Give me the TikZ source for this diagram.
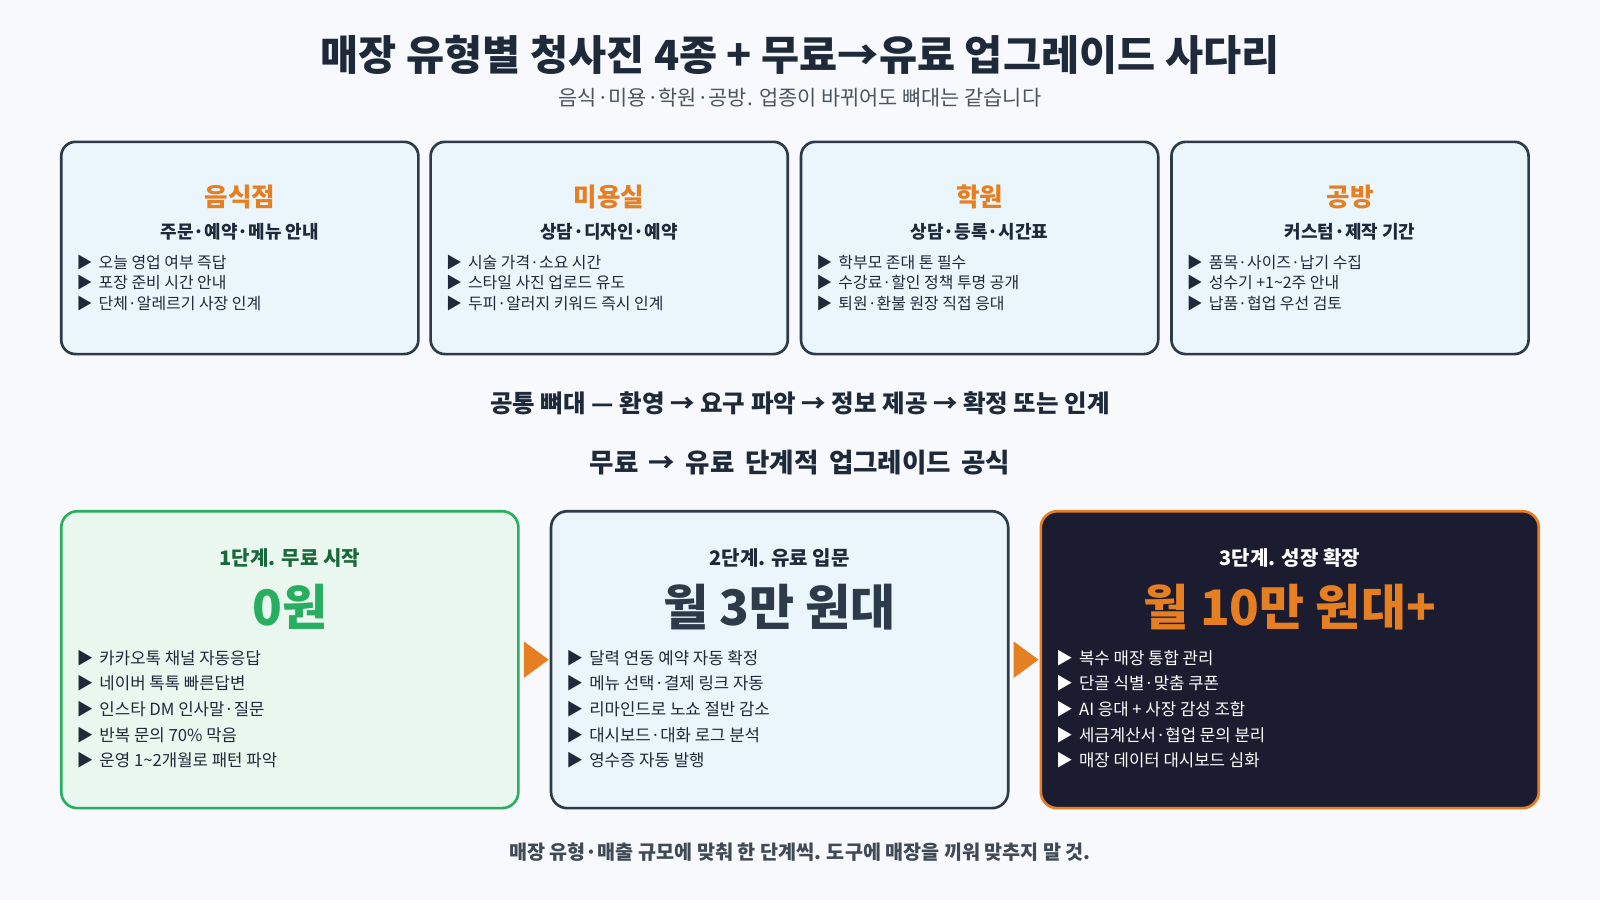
\documentclass[tikz,border=0pt]{standalone}
\usepackage{fontspec}
\setmainfont{Noto Sans CJK KR}
\usetikzlibrary{calc, positioning}
\definecolor{bgpaper}{HTML}{F7F9FC}
\definecolor{inkdark}{HTML}{1E2A3A}
\definecolor{cardline}{HTML}{2D3A4A}
\definecolor{cardfill}{HTML}{EAF5FC}
\definecolor{accentorange}{HTML}{E67E22}
\definecolor{accentgreen}{HTML}{27AE60}
\definecolor{greenfill}{HTML}{EAF7EE}
\definecolor{nightfill}{HTML}{1C1C30}

\tikzset{
  card/.style={draw=cardline, fill=cardfill, line width=1.3pt, rounded corners=7pt,
    minimum width=175pt, minimum height=104pt, inner sep=0pt},
  cardtitle/.style={font=\bfseries\fontsize{12.5}{14}\selectfont, text=accentorange},
  cardsub/.style={font=\bfseries\fontsize{8.8}{10}\selectfont, text=inkdark},
  bullet/.style={font=\fontsize{7.8}{9}\selectfont, text=inkdark, anchor=west, inner sep=0pt},
  stage/.style={line width=1.3pt, rounded corners=8pt, minimum height=145.5pt, inner sep=0pt},
  heading/.style={font=\bfseries\fontsize{12}{14}\selectfont, text=inkdark},
}

\begin{document}
\begin{tikzpicture}[x=0.5pt, y=-0.5pt]
  % Background
  \fill[bgpaper] (0,0) rectangle (1568,882);
  \useasboundingbox (0,0) rectangle (1568,882);

  % Title
  \node[font=\bfseries\fontsize{20.3}{24}\selectfont, text=inkdark] (title) at (784,54)
    {매장 유형별 청사진 4종 + 무료→유료 업그레이드 사다리};
  \node[font=\fontsize{10.2}{12}\selectfont, text=inkdark!80] (subtitle) at (784,96)
    {음식·미용·학원·공방. 업종이 바뀌어도 뼈대는 같습니다};

  % Business cards
  \foreach \i/\cx/\name/\sub/\ba/\bb/\bc in {
      1/235/음식점/주문·예약·메뉴 안내/오늘 영업 여부 즉답/포장 준비 시간 안내/단체·알레르기 사장 인계,
      2/597/미용실/상담·디자인·예약/시술 가격·소요 시간/스타일 사진 업로드 유도/두피·알러지 키워드 즉시 인계,
      3/960/학원/상담·등록·시간표/학부모 존대 톤 필수/수강료·할인 정책 투명 공개/퇴원·환불 원장 직접 응대,
      4/1323/공방/커스텀·제작 기간/품목·사이즈·납기 수집/성수기 +1\textasciitilde 2주 안내/납품·협업 우선 검토} {
    \node[card] (card\i) at (\cx,243) {};
    \node[cardtitle] (card\i-title) at (\cx,193) {\name};
    \node[cardsub] (card\i-sub) at (\cx,227) {\sub};
    \foreach \t [count=\k] in {\ba,\bb,\bc}
      \node[bullet] (card\i-b\k) at ($(card\i.west)+(16,-243+237+\k*20)$) {▶\hspace{3pt}\t};
  }

  % Headings
  \node[heading] (common) at (784,395) {공통 뼈대 — 환영 → 요구 파악 → 정보 제공 → 확정 또는 인계};
  \node[heading, font=\bfseries\fontsize{13}{15}\selectfont] (ladder) at (784,453) {무료 \,→\, 유료 \,단계적 \,업그레이드 \,공식};

  % Stages
  \node[stage, draw=accentgreen, fill=greenfill, minimum width=224pt] (stage1) at (284,646.5) {};
  \node[stage, draw=cardline, fill=cardfill, minimum width=224pt] (stage2) at (764,646.5) {};
  \node[stage, draw=accentorange, fill=nightfill, minimum width=244pt] (stage3) at (1264,646.5) {};

  \node[font=\bfseries\fontsize{9.8}{11}\selectfont, text=accentgreen!60!black] (stage1-title) at (284,547) {1단계. 무료 시작};
  \node[font=\bfseries\fontsize{24}{28}\selectfont, text=accentgreen] (stage1-price) at (284,595) {0원};
  \node[font=\bfseries\fontsize{9.8}{11}\selectfont, text=inkdark] (stage2-title) at (764,547) {2단계. 유료 입문};
  \node[font=\bfseries\fontsize{24}{28}\selectfont, text=cardline] (stage2-price) at (764,595) {월 3만 원대};
  \node[font=\bfseries\fontsize{9.8}{11}\selectfont, text=white] (stage3-title) at (1264,547) {3단계. 성장 확장};
  \node[font=\bfseries\fontsize{24}{28}\selectfont, text=accentorange] (stage3-price) at (1264,595) {월 10만 원대+};

  \foreach \t [count=\k] in {카카오톡 채널 자동응답, 네이버 톡톡 빠른답변, 인스타 DM 인사말·질문,
      반복 문의 70\% 막음, 운영 1\textasciitilde 2개월로 패턴 파악}
    \node[bullet, font=\fontsize{8.2}{9}\selectfont] (stage1-b\k) at ($(stage1.west)+(16,-646.5+620+\k*25)$) {▶\hspace{3pt}\t};
  \foreach \t [count=\k] in {달력 연동 예약 자동 확정, 메뉴 선택·결제 링크 자동, 리마인드로 노쇼 절반 감소,
      대시보드·대화 로그 분석, 영수증 자동 발행}
    \node[bullet, font=\fontsize{8.2}{9}\selectfont] (stage2-b\k) at ($(stage2.west)+(16,-646.5+620+\k*25)$) {▶\hspace{3pt}\t};
  \foreach \t [count=\k] in {복수 매장 통합 관리, 단골 식별·맞춤 쿠폰, AI 응대 + 사장 감성 조합,
      세금계산서·협업 문의 분리, 매장 데이터 대시보드 심화}
    \node[bullet, font=\fontsize{8.2}{9}\selectfont, text=white] (stage3-b\k) at ($(stage3.west)+(16,-646.5+620+\k*25)$) {▶\hspace{3pt}\t};

  % Step arrows
  \fill[accentorange] ($(stage1.east)+(4,-18)$) -- ($(stage1.east)+(4,18)$) -- ($(stage2.west)+(-1,0)$) -- cycle;
  \fill[accentorange] ($(stage2.east)+(4,-18)$) -- ($(stage2.east)+(4,18)$) -- ($(stage3.west)+(-1,0)$) -- cycle;

  % Footer
  \node[font=\bfseries\fontsize{9.6}{11}\selectfont, text=inkdark!85] (footer) at (784,835)
    {매장 유형·매출 규모에 맞춰 한 단계씩. 도구에 매장을 끼워 맞추지 말 것.};
\end{tikzpicture}
\end{document}
